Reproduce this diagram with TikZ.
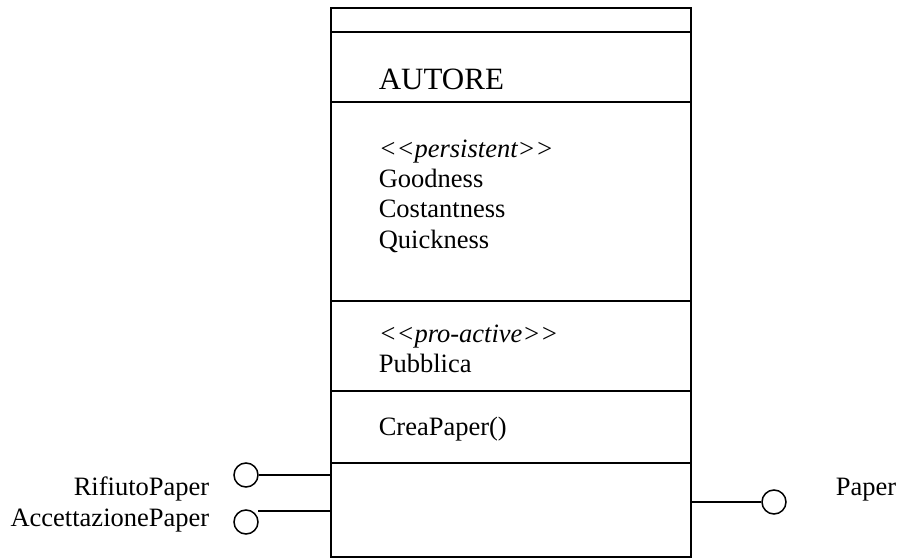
\documentclass[tikz,border=0pt]{standalone}
\usepackage{fontspec}
\setmainfont{Liberation Serif}
\begin{document}
\begin{tikzpicture}[x=1pt,y=-1pt,
  line width=1.6pt,
  txt/.style={anchor=base west,inner sep=0pt,font=\fontsize{26.5}{30}\selectfont},
  lbl/.style={anchor=base east,inner sep=0pt,font=\fontsize{26.5}{30}\selectfont},
  iface/.style={draw,circle,minimum size=24pt,inner sep=0pt,line width=1.5pt}]
\useasboundingbox (0,0) rectangle (898,559);

% class box
\node[draw,minimum width=360pt,minimum height=549pt,anchor=north west,inner sep=0pt] (box) at (330,7) {};
\foreach \y in {32,102,301,391,463}
  \draw (box.west |- 0,\y) -- (box.east |- 0,\y);

% compartments
\node[txt,font=\fontsize{31}{34}\selectfont] (name) at (378,90) {AUTORE};
\node[txt] (st1) at (378,158) {\textit{{<}{<}persistent{>}{>}}};
\node[txt] (a1) at (378,188) {Goodness};
\node[txt] (a2) at (378,218) {Costantness};
\node[txt] (a3) at (378,248) {Quickness};
\node[txt] (st2) at (378,342) {\textit{{<}{<}pro-active{>}{>}}};
\node[txt] (g1) at (378,372) {Pubblica};
\node[txt] (op1) at (378,435) {CreaPaper()};

% interfaces
\node[iface] (rif) at (246,475) {};
\node[iface] (acc) at (246,522) {};
\node[iface] (pap) at (774,502) {};
\coordinate (accEnd) at (258,511);

\draw (rif.east) -- (rif.east -| box.west);
\draw (accEnd) -- (accEnd -| box.west);
\draw (pap.west) -- (pap.west -| box.east);

\node[lbl] (lrif) at (210,495) {RifiutoPaper};
\node[lbl] (lacc) at (210,526) {AccettazionePaper};
\node[txt] (lpap) at (835,495) {Paper};
\end{tikzpicture}
\end{document}
